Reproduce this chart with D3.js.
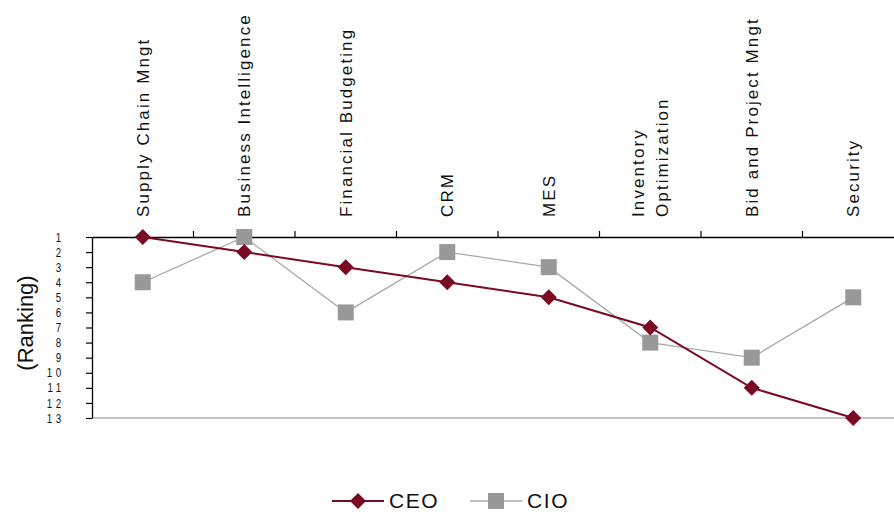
<!DOCTYPE html>
<html>
<head>
<meta charset="utf-8">
<script src="https://cdn.jsdelivr.net/npm/d3@7"></script>
<style>
  html, body { margin: 0; padding: 0; background: #fff; }
  svg { display: block; font-family: Arial, "Liberation Sans", sans-serif; }
</style>
</head>
<body>
<svg id="chart" width="894" height="512"></svg>
<script>
// Priority ranking of IT initiatives by role (1 = highest)
const categories = [
  ["Supply Chain Mngt"],
  ["Business Intelligence"],
  ["Financial Budgeting"],
  ["CRM"],
  ["MES"],
  ["Inventory", "Optimization"],
  ["Bid and Project Mngt"],
  ["Security"]
];
const ceoRanks = [1, 2, 3, 4, 5, 7, 11, 13];
const cioRanks = [4, 1, 6, 2, 3, 8, 9, 5];
const rankTicks = [1, 2, 3, 4, 5, 6, 7, 8, 9, 10, 11, 12, 13];
const seriesNames = ["CEO", "CIO"];

const CEO_COLOR = "#7a0a24";
const CIO_COLOR = "#999999";

const svg = d3.select("#chart");
const plot = { left: 92, right: 904, top: 237, bottom: 418 };

const keys = categories.map(c => c.join(" "));
const x = d3.scaleBand().domain(keys).range([plot.left, plot.right]);
const y = d3.scaleLinear().domain([1, 13]).range([plot.top, plot.bottom]);
const cx = i => x(keys[i]) + x.bandwidth() / 2;

// bottom boundary of the plot area
svg.append("line")
  .attr("x1", plot.left).attr("x2", plot.right)
  .attr("y1", plot.bottom).attr("y2", plot.bottom)
  .attr("stroke", "#8a8a8a").attr("stroke-width", 1.2);

// category axis along the top
const topAxis = svg.append("g")
  .attr("transform", `translate(0,${plot.top})`)
  .call(d3.axisTop(x).tickSize(0).tickFormat(""));
topAxis.select(".domain").attr("stroke", "#000").attr("stroke-width", 1.3);
const edges = keys.map(k => x(k)).concat([plot.right]).slice(1);
topAxis.selectAll("line.edge").data(edges).join("line")
  .attr("class", "edge")
  .attr("x1", d => d).attr("x2", d => d)
  .attr("y1", 0).attr("y2", -6)
  .attr("stroke", "#000").attr("stroke-width", 1.2);

// rotated category labels
const labelBase = 217, lineGap = 24;
categories.forEach((lines, i) => {
  const t = svg.append("text")
    .attr("transform", `translate(${cx(i)},${labelBase}) rotate(-90)`)
    .attr("text-anchor", "start")
    .attr("font-size", 17)
    .attr("letter-spacing", 2.1)
    .attr("fill", "#111");
  const n = lines.length;
  lines.forEach((ln, j) => {
    t.append("tspan")
      .attr("x", 0)
      .attr("y", (j - (n - 1) / 2) * lineGap + 6)
      .text(ln);
  });
});

// ranking axis on the left
const leftAxis = svg.append("g")
  .attr("transform", `translate(${plot.left},0)`)
  .call(d3.axisLeft(y).tickValues(rankTicks).tickSize(6).tickSizeOuter(0).tickFormat(""));
leftAxis.select(".domain").attr("stroke", "#000").attr("stroke-width", 1.3);
leftAxis.selectAll(".tick line").attr("stroke", "#000").attr("stroke-width", 1.2);

// narrow rank numbers packed closely beside the ticks
const sx = 0.75;
svg.append("g").selectAll("text").data(rankTicks).join("text")
  .attr("transform", d => `translate(65,${y(d) + 4.6}) scale(${sx},1)`)
  .attr("text-anchor", "end")
  .attr("font-size", 13)
  .attr("letter-spacing", 5)
  .attr("fill", "#111")
  .text(d => d);

svg.append("text")
  .attr("transform", `translate(33,323) rotate(-90)`)
  .attr("text-anchor", "middle")
  .attr("font-size", 22)
  .attr("fill", "#111")
  .text("(Ranking)");

// series lines and markers
const line = d3.line().x((d, i) => cx(i)).y(d => y(d));

svg.append("path").datum(cioRanks)
  .attr("d", line).attr("fill", "none")
  .attr("stroke", "#a8a8a8").attr("stroke-width", 1.3);
svg.append("path").datum(ceoRanks)
  .attr("d", line).attr("fill", "none")
  .attr("stroke", CEO_COLOR).attr("stroke-width", 2);

const sq = 16;
svg.append("g").selectAll("rect").data(cioRanks).join("rect")
  .attr("x", (d, i) => cx(i) - sq / 2).attr("y", d => y(d) - sq / 2)
  .attr("width", sq).attr("height", sq)
  .attr("fill", CIO_COLOR);

const dm = 8;
const diamond = (px, py) => `M${px},${py - dm}L${px + dm},${py}L${px},${py + dm}L${px - dm},${py}Z`;
svg.append("g").selectAll("path").data(ceoRanks).join("path")
  .attr("d", (d, i) => diamond(cx(i), y(d)))
  .attr("fill", CEO_COLOR);

// legend
const legendY = 501;
const legendItems = [
  { name: seriesNames[0], x: 332, color: CEO_COLOR, width: 2, mark: "diamond" },
  { name: seriesNames[1], x: 470, color: "#a8a8a8", width: 1.3, mark: "square" }
];
legendItems.forEach(it => {
  const g = svg.append("g");
  g.append("line")
    .attr("x1", it.x).attr("x2", it.x + 52)
    .attr("y1", legendY).attr("y2", legendY)
    .attr("stroke", it.color).attr("stroke-width", it.width);
  const mx = it.x + 26;
  if (it.mark === "diamond") {
    g.append("path").attr("d", diamond(mx, legendY)).attr("fill", CEO_COLOR);
  } else {
    g.append("rect").attr("x", mx - sq / 2).attr("y", legendY - sq / 2)
      .attr("width", sq).attr("height", sq).attr("fill", CIO_COLOR);
  }
  g.append("text")
    .attr("x", it.x + 57).attr("y", legendY + 6.5)
    .attr("font-size", 21)
    .attr("letter-spacing", 1.6)
    .attr("fill", "#111")
    .text(it.name);
});
</script>
</body>
</html>
